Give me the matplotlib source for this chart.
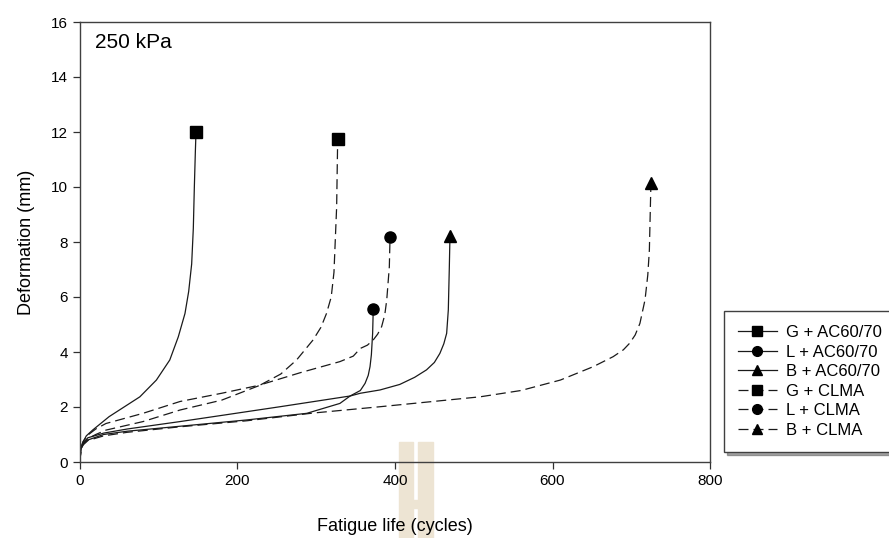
import matplotlib
matplotlib.use("Agg")
import matplotlib.pyplot as plt
from matplotlib.lines import Line2D
from matplotlib.patches import Rectangle

plt.rcParams["font.family"] = ["Liberation Sans", "DejaVu Sans"]

# ---------------------------------------------------------------------------
# Data
# ---------------------------------------------------------------------------
G_AC_X = [0, 1, 3.4, 8, 16, 37, 63, 76, 97, 114, 124.8, 133.3, 138, 141.8, 143.9, 145.2, 146.5, 147.3]
G_AC_Y = [0, 0.45, 0.7, 0.95, 1.16, 1.65, 2.13, 2.37, 2.98, 3.71, 4.55, 5.4, 6.2, 7.2, 8.5, 10.0, 11.3, 12.0]

L_AC_X = [0, 1, 4, 10, 30, 60, 127, 212, 288, 330, 343, 356, 362, 366, 368.3, 370, 371.6, 372.4]
L_AC_Y = [0, 0.45, 0.65, 0.8, 1.0, 1.12, 1.3, 1.53, 1.77, 2.13, 2.4, 2.6, 2.86, 3.15, 3.47, 3.9, 4.68, 5.57]

B_AC_X = [0, 1, 4, 10, 30, 60, 127, 186, 254, 343, 356, 381, 406, 425, 440, 450, 457, 462, 465.6, 467.7, 469, 469.8]
B_AC_Y = [0, 0.5, 0.7, 0.88, 1.05, 1.2, 1.47, 1.72, 2.01, 2.4, 2.5, 2.62, 2.82, 3.08, 3.35, 3.62, 3.95, 4.3, 4.68, 5.53, 7.1, 8.22]

G_CLMA_X = [0, 1, 4, 10, 20, 33, 80, 127, 180, 229, 255, 275, 296, 306, 313, 319, 322.5, 325.9, 327.2]
G_CLMA_Y = [0, 0.5, 0.75, 0.98, 1.2, 1.4, 1.77, 2.2, 2.5, 2.8, 3.2, 3.71, 4.44, 4.9, 5.4, 6.0, 6.9, 9.28, 11.73]

L_CLMA_X = [0, 1, 4, 10, 20, 33, 80, 127, 180, 233, 280, 330, 347, 356, 365, 372.4, 378, 383, 387, 389.5, 392.8, 393.7]
L_CLMA_Y = [0, 0.45, 0.65, 0.85, 1.0, 1.16, 1.47, 1.89, 2.25, 2.84, 3.25, 3.65, 3.85, 4.13, 4.25, 4.44, 4.65, 4.92, 5.35, 5.89, 7.1, 8.17]

B_CLMA_X = [0, 1, 4, 10, 30, 60, 127, 212, 296, 381, 508, 560, 610, 652, 677, 690, 698, 705, 711, 717.5, 721, 723, 725]
B_CLMA_Y = [0, 0.45, 0.62, 0.78, 0.95, 1.08, 1.28, 1.5, 1.78, 2.01, 2.37, 2.6, 2.98, 3.47, 3.83, 4.08, 4.32, 4.62, 5.04, 5.9, 6.8, 7.7, 10.15]

LABELS = ["G + AC60/70", "L + AC60/70", "B + AC60/70", "G + CLMA", "L + CLMA", "B + CLMA"]
MARKERS = ["s", "o", "^", "s", "o", "^"]
DASHED = [False, False, False, True, True, True]

X_TICKS = [0, 200, 400, 600, 800]
Y_TICKS = [0, 2, 4, 6, 8, 10, 12, 14, 16]

# ---------------------------------------------------------------------------
# Figure
# ---------------------------------------------------------------------------
fig = plt.figure(figsize=(8.89, 5.38), dpi=100)
ax = fig.add_axes([80 / 889, 1 - 462 / 538, 630 / 889, 440 / 538])
ax.set_facecolor("none")

# faint watermark behind the x axis
wm = "#ede4d3"
W, H = 889, 538
for x0, y0, w, h in [(399, 442, 14, 96), (418, 442, 15, 96), (413, 500, 5, 8)]:
    fig.patches.append(Rectangle((x0 / W, 1 - (y0 + h) / H), w / W, h / H,
                                 transform=fig.transFigure, color=wm, zorder=-5))

series = [(G_AC_X, G_AC_Y), (L_AC_X, L_AC_Y), (B_AC_X, B_AC_Y),
          (G_CLMA_X, G_CLMA_Y), (L_CLMA_X, L_CLMA_Y), (B_CLMA_X, B_CLMA_Y)]

line_col = "#1a1a1a"
dash = (0, (8, 4))
for (xs, ys), mk, dashed in zip(series, MARKERS, DASHED):
    ax.plot(xs, ys, color=line_col, lw=0.9, ls=dash if dashed else "-",
            marker=mk, markevery=[len(xs) - 1], ms=8, mfc="black", mec="black")

ax.set_xlim(0, 800)
ax.set_ylim(0, 16)
ax.set_xticks(X_TICKS)
ax.set_yticks(Y_TICKS)
ax.tick_params(direction="out", length=5, width=0.9, labelsize=11, colors="#303030",
               labelcolor="black")
for sp in ax.spines.values():
    sp.set_color("#404040")
    sp.set_linewidth(1.0)

ax.set_xlabel("Fatigue life (cycles)", fontsize=13, labelpad=22)
ax.set_ylabel("Deformation (mm)", fontsize=13, labelpad=12)
ax.text(0.024, 0.975, "250 kPa", transform=ax.transAxes, fontsize=15,
        ha="left", va="top")

handles = [Line2D([], [], color=line_col, lw=0.9, ls=dash if d else "-",
                  marker=m, ms=7, mfc="black", mec="black")
           for m, d in zip(MARKERS, DASHED)]
leg = fig.legend(handles, LABELS, loc="upper left", bbox_to_anchor=(724 / 889, 1 - 311 / 538),
                 fontsize=12, frameon=True, fancybox=False, shadow=True,
                 handlelength=2.3, borderpad=0.85, labelspacing=0.27, handletextpad=0.55,
                 borderaxespad=0)
leg.get_frame().set_edgecolor("#404040")
leg.get_frame().set_linewidth(1.0)

fig.savefig("out.png", dpi=100)
